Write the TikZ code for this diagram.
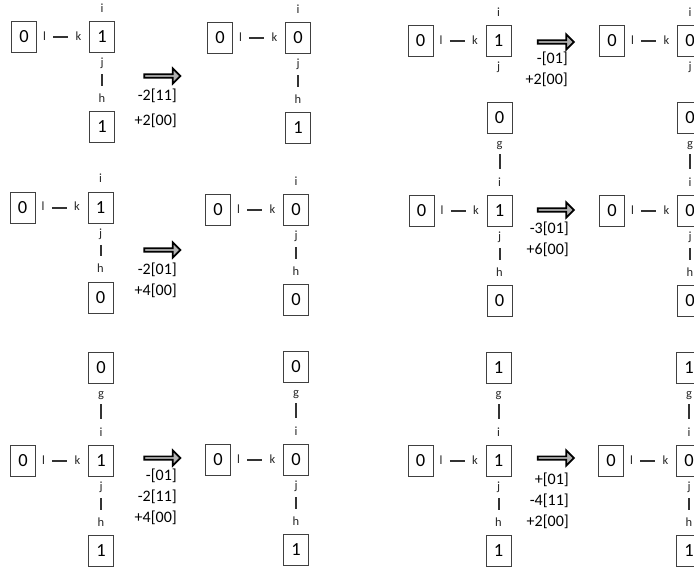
\documentclass[tikz,border=0pt]{standalone}
\usepackage{fontspec}
\setmainfont{Carlito}
\usetikzlibrary{positioning, shapes.arrows}
\tikzset{
  cell/.style={rectangle, draw=black!75, line width=1pt, minimum width=25pt, minimum height=31pt, inner sep=0pt, font=\fontsize{18.5}{18.5}\selectfont, text=black},
  tag/.style={inner sep=0pt, text height=8.5pt, text depth=2.5pt, font=\fontsize{12.5}{12.5}\selectfont, text=black!85},
  bond/.style={line width=2pt, draw=black!80},
  hbond/.style={bond, shorten <=7pt, shorten >=7pt},
  vbond/.style={bond, shorten <=5pt, shorten >=8pt},
  gbond/.style={bond, shorten <=4pt, shorten >=9pt},
  fatarrow/.style={single arrow, draw=black, fill=gray!60, line width=1.7pt, minimum height=36pt, minimum width=15pt, single arrow head extend=3pt, inner sep=0pt},
  change/.style={align=right, anchor=north east, inner sep=0pt, font=\fontsize{16}{21}\selectfont, text=black},
}
\begin{document}
\begin{tikzpicture}[x=1pt, y=-1pt]
\useasboundingbox (0,0) rectangle (694,568);
\clip (0,0) rectangle (694,568);

% row 1, left panel
\node[cell] (pa) at (102,37) {1};
\node[cell, left=52pt of pa] (pa-left) {0}; \node[cell, below=58pt of pa] (pa-down) {1};
\node[tag, right=6pt of pa-left] (pa-l) {l}; \node[tag, left=7.5pt of pa] (pa-k) {k};
\node[tag, above=6pt of pa] (pa-i) {i}; \node[tag, below=5pt of pa] (pa-j) {j}; \node[tag, above=6pt of pa-down] (pa-h) {h};
\draw[hbond] (pa-l) -- (pa-k); \draw[vbond] (pa-j) -- (pa-h);
\node[fatarrow] (pa-arrow) at (161.5,76) {};
\node[change] (pa-change) at (177,89) {-2[11]\\[4pt] +2[00]};
\node[cell] (pb) at (298,38) {0};
\node[cell, left=52pt of pb] (pb-left) {0}; \node[cell, below=58pt of pb] (pb-down) {1};
\node[tag, right=6pt of pb-left] (pb-l) {l}; \node[tag, left=7.5pt of pb] (pb-k) {k};
\node[tag, above=6pt of pb] (pb-i) {i}; \node[tag, below=5pt of pb] (pb-j) {j}; \node[tag, above=6pt of pb-down] (pb-h) {h};
\draw[hbond] (pb-l) -- (pb-k); \draw[vbond] (pb-j) -- (pb-h);

% row 1, right panel
\node[cell] (qa) at (498.5,41) {1};
\node[cell, left=52pt of qa] (qa-left) {0};
\node[tag, right=6pt of qa-left] (qa-l) {l}; \node[tag, left=7.5pt of qa] (qa-k) {k};
\node[tag, above=6pt of qa] (qa-i) {i}; \node[tag, below=5pt of qa] (qa-j) {j};
\draw[hbond] (qa-l) -- (qa-k);
\node[fatarrow] (qa-arrow) at (555,42) {};
\node[change] (qa-change) at (568,52) {-[01]\\ +2[00]};
\node[cell] (qb) at (690,41) {0};
\node[cell, left=52pt of qb] (qb-left) {0};
\node[tag, right=6pt of qb-left] (qb-l) {l}; \node[tag, left=7.5pt of qb] (qb-k) {k};
\node[tag, above=6pt of qb] (qb-i) {i}; \node[tag, below=5pt of qb] (qb-j) {j};
\draw[hbond] (qb-l) -- (qb-k);

% row 2, left panel
\node[cell] (ra) at (100.5,207.5) {1};
\node[cell, left=52pt of ra] (ra-left) {0}; \node[cell, below=58pt of ra] (ra-down) {0};
\node[tag, right=6pt of ra-left] (ra-l) {l}; \node[tag, left=7.5pt of ra] (ra-k) {k};
\node[tag, above=6pt of ra] (ra-i) {i}; \node[tag, below=5pt of ra] (ra-j) {j}; \node[tag, above=6pt of ra-down] (ra-h) {h};
\draw[hbond] (ra-l) -- (ra-k); \draw[vbond] (ra-j) -- (ra-h);
\node[fatarrow] (ra-arrow) at (161.5,250) {};
\node[change] (ra-change) at (177,263) {-2[01]\\ +4[00]};
\node[cell] (rb) at (296,210) {0};
\node[cell, left=52pt of rb] (rb-left) {0}; \node[cell, below=58pt of rb] (rb-down) {0};
\node[tag, right=6pt of rb-left] (rb-l) {l}; \node[tag, left=7.5pt of rb] (rb-k) {k};
\node[tag, above=6pt of rb] (rb-i) {i}; \node[tag, below=5pt of rb] (rb-j) {j}; \node[tag, above=6pt of rb-down] (rb-h) {h};
\draw[hbond] (rb-l) -- (rb-k); \draw[vbond] (rb-j) -- (rb-h);

% row 2, right panel
\node[cell] (sa) at (499.5,211) {1};
\node[cell, left=52pt of sa] (sa-left) {0}; \node[cell, below=58pt of sa] (sa-down) {0}; \node[cell, above=61pt of sa] (sa-up) {0};
\node[tag, right=6pt of sa-left] (sa-l) {l}; \node[tag, left=7.5pt of sa] (sa-k) {k}; \node[tag, below=5pt of sa-up] (sa-g) {g};
\node[tag, above=6pt of sa] (sa-i) {i}; \node[tag, below=5pt of sa] (sa-j) {j}; \node[tag, above=6pt of sa-down] (sa-h) {h};
\draw[hbond] (sa-l) -- (sa-k); \draw[vbond] (sa-j) -- (sa-h); \draw[gbond] (sa-g) -- (sa-i);
\node[fatarrow] (sa-arrow) at (555,210) {};
\node[change] (sa-change) at (569,222) {-3[01]\\ +6[00]};
\node[cell] (sb) at (690,211) {0};
\node[cell, left=52pt of sb] (sb-left) {0}; \node[cell, below=58pt of sb] (sb-down) {0}; \node[cell, above=61pt of sb] (sb-up) {0};
\node[tag, right=6pt of sb-left] (sb-l) {l}; \node[tag, left=7.5pt of sb] (sb-k) {k}; \node[tag, below=5pt of sb-up] (sb-g) {g};
\node[tag, above=6pt of sb] (sb-i) {i}; \node[tag, below=5pt of sb] (sb-j) {j}; \node[tag, above=6pt of sb-down] (sb-h) {h};
\draw[hbond] (sb-l) -- (sb-k); \draw[vbond] (sb-j) -- (sb-h); \draw[gbond] (sb-g) -- (sb-i);

% row 3, left panel
\node[cell] (ta) at (101,461) {1};
\node[cell, left=52pt of ta] (ta-left) {0}; \node[cell, below=58pt of ta] (ta-down) {1}; \node[cell, above=61pt of ta] (ta-up) {0};
\node[tag, right=6pt of ta-left] (ta-l) {l}; \node[tag, left=7.5pt of ta] (ta-k) {k}; \node[tag, below=5pt of ta-up] (ta-g) {g};
\node[tag, above=6pt of ta] (ta-i) {i}; \node[tag, below=5pt of ta] (ta-j) {j}; \node[tag, above=6pt of ta-down] (ta-h) {h};
\draw[hbond] (ta-l) -- (ta-k); \draw[vbond] (ta-j) -- (ta-h); \draw[gbond] (ta-g) -- (ta-i);
\node[fatarrow] (ta-arrow) at (161.5,458) {};
\node[change] (ta-change) at (177,469) {-[01]\\ -2[11]\\ +4[00]};
\node[cell] (tb) at (296,460) {0};
\node[cell, left=52pt of tb] (tb-left) {0}; \node[cell, below=58pt of tb] (tb-down) {1}; \node[cell, above=61pt of tb] (tb-up) {0};
\node[tag, right=6pt of tb-left] (tb-l) {l}; \node[tag, left=7.5pt of tb] (tb-k) {k}; \node[tag, below=5pt of tb-up] (tb-g) {g};
\node[tag, above=6pt of tb] (tb-i) {i}; \node[tag, below=5pt of tb] (tb-j) {j}; \node[tag, above=6pt of tb-down] (tb-h) {h};
\draw[hbond] (tb-l) -- (tb-k); \draw[vbond] (tb-j) -- (tb-h); \draw[gbond] (tb-g) -- (tb-i);

% row 3, right panel
\node[cell] (ua) at (498.5,461) {1};
\node[cell, left=52pt of ua] (ua-left) {0}; \node[cell, below=58pt of ua] (ua-down) {1}; \node[cell, above=61pt of ua] (ua-up) {1};
\node[tag, right=6pt of ua-left] (ua-l) {l}; \node[tag, left=7.5pt of ua] (ua-k) {k}; \node[tag, below=5pt of ua-up] (ua-g) {g};
\node[tag, above=6pt of ua] (ua-i) {i}; \node[tag, below=5pt of ua] (ua-j) {j}; \node[tag, above=6pt of ua-down] (ua-h) {h};
\draw[hbond] (ua-l) -- (ua-k); \draw[vbond] (ua-j) -- (ua-h); \draw[gbond] (ua-g) -- (ua-i);
\node[fatarrow] (ua-arrow) at (555,458) {};
\node[change] (ua-change) at (569,473) {+[01]\\ -4[11]\\ +2[00]};
\node[cell] (ub) at (689,461) {0};
\node[cell, left=52pt of ub] (ub-left) {0}; \node[cell, below=58pt of ub] (ub-down) {1}; \node[cell, above=61pt of ub] (ub-up) {1};
\node[tag, right=6pt of ub-left] (ub-l) {l}; \node[tag, left=7.5pt of ub] (ub-k) {k}; \node[tag, below=5pt of ub-up] (ub-g) {g};
\node[tag, above=6pt of ub] (ub-i) {i}; \node[tag, below=5pt of ub] (ub-j) {j}; \node[tag, above=6pt of ub-down] (ub-h) {h};
\draw[hbond] (ub-l) -- (ub-k); \draw[vbond] (ub-j) -- (ub-h); \draw[gbond] (ub-g) -- (ub-i);
\end{tikzpicture}
\end{document}
